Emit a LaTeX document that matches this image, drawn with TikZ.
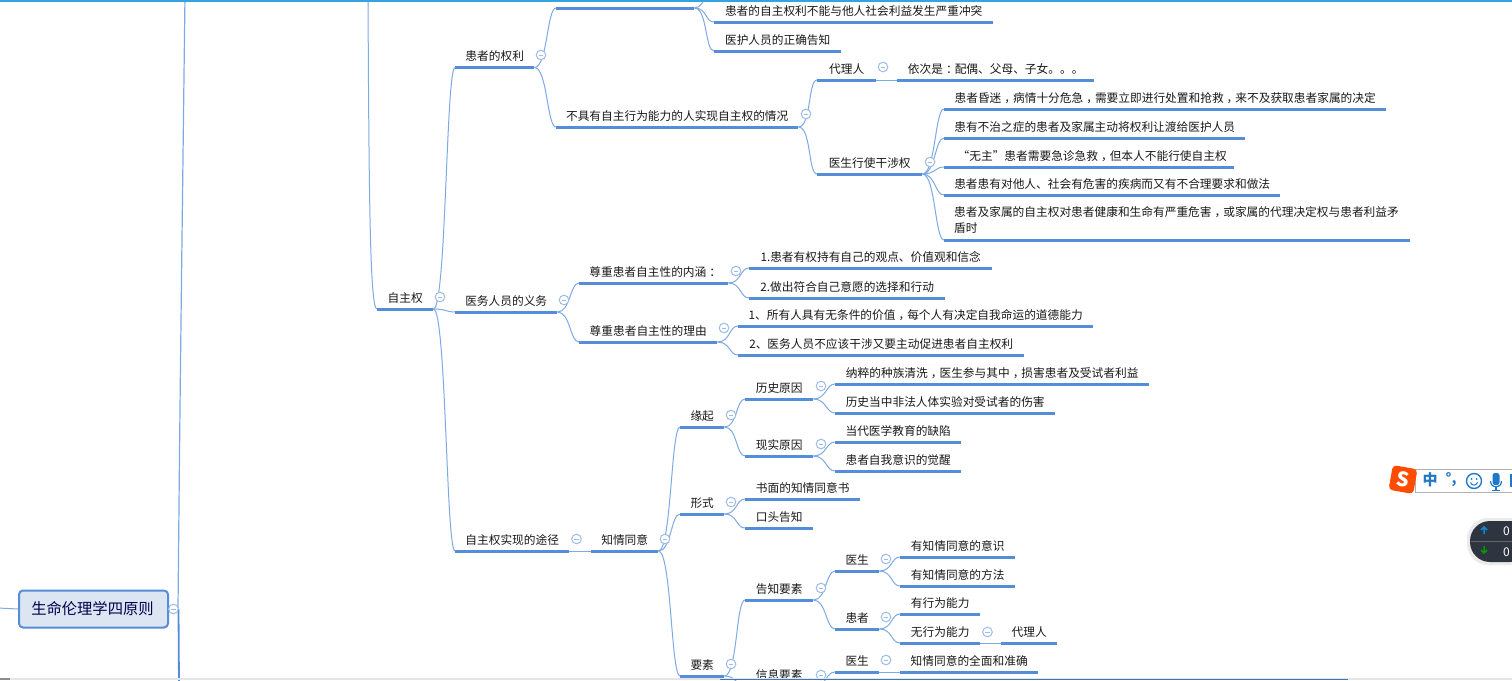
\documentclass[tikz,border=0pt]{standalone}
\usepackage{fontspec}
\setmainfont{Noto Sans CJK SC}
\usetikzlibrary{positioning}
\definecolor{ruleblue}{HTML}{568DD8}
\definecolor{linkblue}{HTML}{7FA9E2}
\definecolor{foldblue}{HTML}{9DBDE8}
\definecolor{rootfill}{HTML}{DCE6F2}
\definecolor{barblue}{HTML}{35A4DC}
\definecolor{edgeblue}{HTML}{3F79B5}
\definecolor{imeblue}{HTML}{1F78C8}
\definecolor{widgetdark}{HTML}{2F3540}
\tikzset{
  topic/.style={anchor=south west, inner sep=0, minimum height=24, text height=12.5, text depth=1.5, font=\fontsize{11.7}{16}\selectfont, text=black!90},
  fold/.style={circle, draw=foldblue, fill=white, line width=1pt, inner sep=0, minimum size=9.6,
    path picture={\draw[foldblue, line width=1pt] ([xshift=-2.4pt]path picture bounding box.center) -- ([xshift=2.4pt]path picture bounding box.center);}},
  branch/.style={draw=linkblue, line width=1pt},
  rule/.style={draw=ruleblue, line width=3pt}
}
\newcommand{\link}[2]{\draw[branch] (#1.south east) .. controls +(13,0) and +(-9,0) .. (#2);}
\newcommand{\linkroot}[2]{\draw[branch] (#1.south east) .. controls +(13,0) and +(-9,0) .. (#2.south west);}
% centred punctuation of the screen font
\newcommand{\cm}{\kern3pt，\kern-3pt}
\newcommand{\cn}{\kern3pt：\kern-3pt}
\begin{document}
\begin{tikzpicture}[x=1pt, y=-1pt]
  \useasboundingbox (0,0) rectangle (1512,680);
  \clip (0,0) rectangle (1512,680);
  \fill[white] (0,0) rectangle (1512,680);

  % Root
  \node[draw=ruleblue, fill=rootfill, line width=2pt, rounded corners=4pt, minimum width=149, minimum height=37, inner sep=0,
        font=\fontsize{15.3}{18}\selectfont, text=black!70!blue] (root) at (93.5,609) {\hspace{-2pt}生命伦理学四原则};
  \coordinate (rootin) at (-2,608);
  \coordinate (stemtop) at (185,-5);
  \coordinate (stembot) at (179,685);
  \coordinate (aboveA) at (368,-5);

  % Autonomy
  \node[topic, minimum width=56] (auto) at (377,309) {自主权};

  % Rights of patients
  \node[topic, minimum width=79] (rights) at (455,67.5) {患者的权利};
  \node[topic, minimum width=138] (blank) at (556,8) {};
  \node[topic, minimum width=279] (r1) at (714,22) {患者的自主权利不能与他人社会利益发生严重冲突};
  \node[topic, minimum width=127] (r2) at (714,51) {医护人员的正确告知};
  \coordinate (r0) at (716,-22);
  \node[topic, minimum width=242] (incap) at (556,127) {不具有自主行为能力的人实现自主权的情况};
  \node[topic, minimum width=59] (agent) at (817,80) {代理人};
  \node[topic, minimum width=197] (order) at (897,80) {依次是\cn 配偶、父母、子女。。。};
  \node[topic, minimum width=105] (doctor) at (817,174) {医生行使干涉权};
  \node[topic, minimum width=442] (c1) at (944,109) {患者昏迷\cm 病情十分危急\cm 需要立即进行处置和抢救\cm 来不及获取患者家属的决定};
  \node[topic, minimum width=301] (c2) at (944,138) {患有不治之症的患者及家属主动将权利让渡给医护人员};
  \node[topic, minimum width=290] (c3) at (944,167) {\hspace{6pt}“无主”患者需要急诊急救\cm 但本人不能行使自主权};
  \node[topic, minimum width=336] (c4) at (944,195) {患者患有对他人、社会有危害的疾病而又有不合理要求和做法};
  \node[topic, minimum height=45, text height=, text depth=, align=left, text width=446, font=\fontsize{11.7}{16}\selectfont] (c5) at (954,243) {患者及家属的自主权对患者健康和生命有严重危害\cm 或家属的代理决定权与患者利益矛\\盾时};
  \coordinate (c5a) at (944,240);
  \coordinate (c5b) at (1410,240);

  % Duties of staff
  \node[topic, minimum width=102] (duty) at (455,312) {医务人员的义务};
  \node[topic, minimum width=149] (mean) at (579,283) {尊重患者自主性的内涵\cn};
  \node[topic, minimum width=138] (reason) at (579,342) {尊重患者自主性的理由};
  \node[topic, minimum width=243] (m1) at (749,268) {1.患者有权持有自己的观点、价值观和信念};
  \node[topic, minimum width=196] (m2) at (749,298) {2.做出符合自己意愿的选择和行动};
  \node[topic, minimum width=355] (s1) at (738,326) {1、所有人具有无条件的价值\cm 每个人有决定自我命运的道德能力};
  \node[topic, minimum width=286] (s2) at (738,355) {2、医务人员不应该干涉又要主动促进患者自主权利};

  % Ways
  \node[topic, minimum width=114] (ways) at (455,551) {自主权实现的途径};
  \node[topic, minimum width=67] (consent) at (591,551) {知情同意};
  \node[topic, minimum width=44] (origin) at (680,427) {缘起};
  \node[topic, minimum width=68] (hist) at (745,399) {历史原因};
  \node[topic, minimum width=314] (h1) at (835,384) {纳粹的种族清洗\cm 医生参与其中\cm 损害患者及受试者利益};
  \node[topic, minimum width=220] (h2) at (835,413) {历史当中非法人体实验对受试者的伤害};
  \node[topic, minimum width=68] (real) at (745,456) {现实原因};
  \node[topic, minimum width=126] (e1) at (835,442) {当代医学教育的缺陷};
  \node[topic, minimum width=126] (e2) at (835,471) {患者自我意识的觉醒};
  \node[topic, minimum width=44] (form) at (680,514) {形式};
  \node[topic, minimum width=115] (f1) at (745,499) {书面的知情同意书};
  \node[topic, minimum width=68] (f2) at (745,528) {口头告知};
  \node[topic, minimum width=44] (elem) at (680,676) {要素};
  \node[topic, minimum width=68] (tell) at (745,600) {告知要素};
  \node[topic, minimum width=44] (doc1) at (835,571) {医生};
  \node[topic, minimum width=115] (d1) at (900,557) {有知情同意的意识};
  \node[topic, minimum width=115] (d2) at (900,586) {有知情同意的方法};
  \node[topic, minimum width=44] (pat) at (835,629) {患者};
  \node[topic, minimum width=80] (p1) at (900,614) {有行为能力};
  \node[topic, minimum width=80] (p2) at (900,643) {无行为能力};
  \node[topic, minimum width=56] (p3) at (1001,643) {代理人};
  \node[topic, minimum width=68] (info) at (745,686.5) {信息要素};
  \node[topic, minimum width=44] (doc2) at (835,672) {医生};
  \node[topic, minimum width=138] (i1) at (900,672) {知情同意的全面和准确};
  \coordinate (infobelow) at (835,705);

  % Connectors
  \draw[branch] (rootin) .. controls (8,608) .. (root.west);
  \draw[draw=linkblue, line width=1.2pt] (root.east) -- (178,609) .. controls (180,400) .. (stemtop);
  \draw[draw=ruleblue, line width=1.8pt] (178.5,609) -- (stembot);
  \draw[branch] (aboveA) .. controls (369,200) and (370,309) .. (auto.south west);
  \linkroot{auto}{rights}
  \linkroot{auto}{duty}
  \linkroot{auto}{ways}
  \linkroot{rights}{blank}
  \linkroot{rights}{incap}
  \link{blank}{r0}
  \linkroot{blank}{r1}
  \linkroot{blank}{r2}
  \linkroot{incap}{agent}
  \linkroot{incap}{doctor}
  \draw[branch] (agent.south east) -- (order.south west);
  \linkroot{doctor}{c1}
  \linkroot{doctor}{c2}
  \linkroot{doctor}{c3}
  \linkroot{doctor}{c4}
  \link{doctor}{c5a}
  \linkroot{duty}{mean}
  \linkroot{duty}{reason}
  \linkroot{mean}{m1}
  \linkroot{mean}{m2}
  \linkroot{reason}{s1}
  \linkroot{reason}{s2}
  \draw[branch] (ways.south east) -- (consent.south west);
  \linkroot{consent}{origin}
  \linkroot{consent}{form}
  \linkroot{consent}{elem}
  \linkroot{origin}{hist}
  \linkroot{origin}{real}
  \linkroot{hist}{h1}
  \linkroot{hist}{h2}
  \linkroot{real}{e1}
  \linkroot{real}{e2}
  \linkroot{form}{f1}
  \linkroot{form}{f2}
  \linkroot{elem}{tell}
  \linkroot{elem}{info}
  \linkroot{tell}{doc1}
  \linkroot{tell}{pat}
  \linkroot{doc1}{d1}
  \linkroot{doc1}{d2}
  \linkroot{pat}{p1}
  \linkroot{pat}{p2}
  \draw[branch] (p2.south east) -- (p3.south west);
  \linkroot{info}{doc2}
  \link{info}{infobelow}
  \draw[branch] (doc2.south east) -- (i1.south west);

  % Underlines
  \foreach \n in {auto,rights,blank,r1,r2,incap,agent,order,doctor,c1,c2,c3,c4,duty,mean,reason,m1,m2,s1,s2,
                  ways,consent,origin,hist,h1,h2,real,e1,e2,form,f1,f2,elem,tell,doc1,d1,d2,pat,p1,p2,p3,info,doc2,i1}
    \draw[rule] (\n.south west) -- (\n.south east);
  \draw[rule] (c5a) -- (c5b);

  % Fold marks
  \node[fold] (frt) at (173.5,609) {};
  \node[fold] at (440,297) {};
  \node[fold] at (541,55) {};
  \node[fold] at (806,114) {};
  \node[fold] at (883,67) {};
  \node[fold] at (930,162) {};
  \node[fold] at (564,300) {};
  \node[fold] at (736,271) {};
  \node[fold] at (724,328) {};
  \node[fold] at (576.5,539) {};
  \node[fold] at (665,539) {};
  \node[fold] at (731,415) {};
  \node[fold] at (821,386) {};
  \node[fold] at (821,444) {};
  \node[fold] at (731,502) {};
  \node[fold] at (731,664) {};
  \node[fold] at (821,588) {};
  \node[fold] at (886,559) {};
  \node[fold] at (886,617) {};
  \node[fold] at (987.5,632) {};
  \node[fold] at (821,675) {};
  \node[fold] at (886,660) {};

  % Window edges
  \fill[barblue] (0,0) rectangle (1512,2);
  \fill[black!10] (0,678.3) rectangle (1512,680);
  \fill[black!45] (0,678.3) rectangle (10,680);
  \fill[edgeblue] (720,678.5) rectangle (1348,680);

  % Input bar
  \draw[black!30, fill=white, line width=1pt] (1415,469.5) rectangle (1514,492.5);
  \node[rotate=-10, fill=orange!60!red, rounded corners=4pt, minimum size=25, inner sep=0, text=white,
        font=\bfseries\itshape\fontsize{20}{20}\selectfont] (ime) at (1403,479.5) {S};
  \node[text=imeblue, inner sep=0, font=\bfseries\fontsize{15}{15}\selectfont] (imezh) at (1430,480) {中};
  \node[text=imeblue, inner sep=0, font=\bfseries\fontsize{14}{14}\selectfont] (imedot) at (1451,480) {°,};
  \draw[imeblue, line width=1.4pt] (1474,481) circle (7.5);
  \fill[imeblue] (1471.5,479) circle (1) (1476.5,479) circle (1);
  \draw[imeblue, line width=1pt] (1470.5,482.5) .. controls (1472,486) and (1476,486) .. (1477.5,482.5);
  \fill[imeblue, rounded corners=2.5pt] (1492.5,473) rectangle (1499.5,485);
  \draw[imeblue, line width=1.2pt] (1490.5,481) .. controls (1490.5,489) and (1501.5,489) .. (1501.5,481);
  \draw[imeblue, line width=1.2pt] (1496,487) -- (1496,490) (1492,490.5) -- (1500,490.5);
  \fill[imeblue] (1510,474) rectangle (1512,487);

  % Speed widget
  \fill[black!8, rounded corners=21pt] (1467,518) rectangle (1530,565);
  \fill[widgetdark, rounded corners=20pt] (1470,521) rectangle (1530,562);
  \draw[black!60, line width=0.5pt] (1471,541) -- (1512,541);
  \draw[cyan!70!blue, line width=1.5pt] (1484,534) -- (1484,527) (1481,530) -- (1484,527) -- (1487,530);
  \draw[green!60!black, line width=1.5pt] (1484,546) -- (1484,553) (1481,550) -- (1484,553) -- (1487,550);
  \node[text=white, inner sep=0, font=\fontsize{12}{12}\selectfont] (upnum) at (1506.5,531) {0};
  \node[text=white, inner sep=0, font=\fontsize{12}{12}\selectfont] (downnum) at (1506.5,552) {0};
\end{tikzpicture}
\end{document}
